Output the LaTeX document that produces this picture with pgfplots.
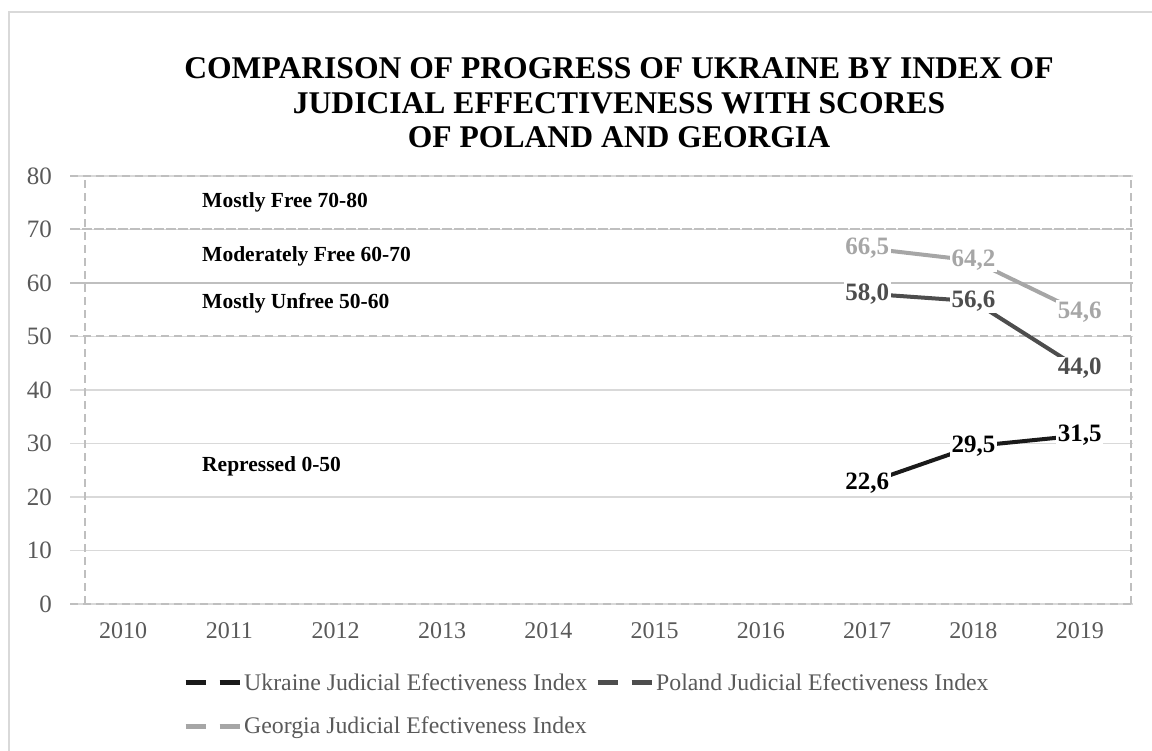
\documentclass[border=0pt]{standalone}
\usepackage{pgfplots}
\pgfplotsset{compat=1.18}
\usepackage{fontspec}
\setmainfont{Liberation Serif}
\definecolor{ukr}{HTML}{1A1A1A}
\definecolor{pol}{HTML}{4D4D4D}
\definecolor{geo}{HTML}{A6A6A6}
\definecolor{gridc}{HTML}{D9D9D9}
\definecolor{dashc}{HTML}{BFBFBF}
\definecolor{txtc}{HTML}{595959}
\definecolor{framec}{HTML}{D9D9D9}
\pgfplotstableread{
x y lab
7 22.6 22,6
8 29.5 29,5
9 31.5 31,5
}\ukrdata
\pgfplotstableread{
x y lab
7 58.0 58,0
8 56.6 56,6
9 44.0 44,0
}\poldata
\pgfplotstableread{
x y lab
7 66.5 66,5
8 64.2 64,2
9 54.6 54,6
}\geodata
\begin{document}
\begin{tikzpicture}
\useasboundingbox (0pt,0pt) rectangle (1152pt,751pt);
\draw[color=framec, line width=2pt] (9pt,0pt) -- (9pt,739pt) -- (1152pt,739pt);
\node[anchor=base, font=\fontsize{31.6}{34}\selectfont\bfseries, inner sep=0pt] at (619pt,672.6pt) {COMPARISON OF PROGRESS OF UKRAINE BY INDEX OF};
\node[anchor=base, font=\fontsize{31.6}{34}\selectfont\bfseries, inner sep=0pt] at (619pt,637.6pt) {JUDICIAL EFFECTIVENESS WITH SCORES};
\node[anchor=base, font=\fontsize{31.6}{34}\selectfont\bfseries, inner sep=0pt] at (619pt,603.6pt) {OF POLAND AND GEORGIA};
\begin{axis}[
  at={(70pt,147pt)}, anchor=south west,
  width=1063pt, height=428pt, scale only axis,
  xmin=-0.5, xmax=9.5, ymin=0, ymax=80,
  axis line style={draw=none},
  major tick length=0pt,
  xtick={0,...,9},
  xticklabels={2010,2011,2012,2013,2014,2015,2016,2017,2018,2019},
  ytick={0,10,...,80},
  ymajorgrids=true,
  major grid style={color=gridc, line width=1.5pt},
  extra y ticks={0,50,80},
  extra y tick labels={},
  extra y tick style={grid=major, major grid style={color=dashc, line width=2pt, dash pattern=on 8pt off 5pt}},
  extra x ticks={-0.359,9.48},
  extra x tick labels={},
  extra x tick style={grid=major, major grid style={color=dashc, line width=2pt, dash pattern=on 8pt off 5pt}},
  /pgf/number format/assume math mode=true,
  yticklabel style={font=\fontsize{25}{25}\selectfont, text=txtc, inner sep=0pt, anchor=east, xshift=-18pt},
  xticklabel style={font=\fontsize{24}{24}\selectfont, text=txtc, inner sep=0pt, anchor=north, yshift=-18pt},
  point meta=explicit symbolic,
  nodes near coords,
  nodes near coords align={center},
  every node near coord/.append style={anchor=center, fill=white, inner sep=1.5pt, font=\fontsize{25}{25}\selectfont\bfseries},
  legend columns=2,
  legend style={at={(0.1063,-0.158)}, anchor=north west, draw=none, fill=none,
    font=\fontsize{23.8}{23.8}\selectfont, text=txtc, inner sep=0pt,
    row sep=21pt,
    /tikz/every even column/.append style={column sep=6pt}},
  legend cell align=left,
  legend image code/.code={\draw[#1, line width=5pt, dash pattern=on 20pt off 14pt] (0pt,0pt) -- (54pt,0pt);},
]
\draw[color=dashc, line width=2pt] (axis cs:-0.5,60) -- (axis cs:9.5,60);
\draw[color=dashc, line width=2pt, dash pattern=on 10pt off 2pt] (axis cs:-0.5,70) -- (axis cs:9.5,70);
\node[anchor=base west, inner sep=0pt, font=\fontsize{21.5}{21.5}\selectfont\bfseries] at (axis cs:0.742,74.2) {Mostly Free 70-80};
\node[anchor=base west, inner sep=0pt, font=\fontsize{21.5}{21.5}\selectfont\bfseries] at (axis cs:0.742,64.1) {Moderately Free 60-70};
\node[anchor=base west, inner sep=0pt, font=\fontsize{21.5}{21.5}\selectfont\bfseries] at (axis cs:0.742,55.3) {Mostly Unfree 50-60};
\node[anchor=base west, inner sep=0pt, font=\fontsize{21.5}{21.5}\selectfont\bfseries] at (axis cs:0.742,24.7) {Repressed 0-50};
\addplot[color=ukr, line width=4pt, every node near coord/.append style={text=black}] table[x=x, y=y, meta=lab] {\ukrdata};
\addlegendentry{Ukraine Judicial Efectiveness Index}
\addplot[color=pol, line width=4pt, every node near coord/.append style={text=pol}] table[x=x, y=y, meta=lab] {\poldata};
\addlegendentry{Poland Judicial Efectiveness Index}
\addplot[color=geo, line width=4pt, every node near coord/.append style={text=geo}] table[x=x, y=y, meta=lab] {\geodata};
\addlegendentry{Georgia Judicial Efectiveness Index}
\end{axis}
\end{tikzpicture}
\end{document}
